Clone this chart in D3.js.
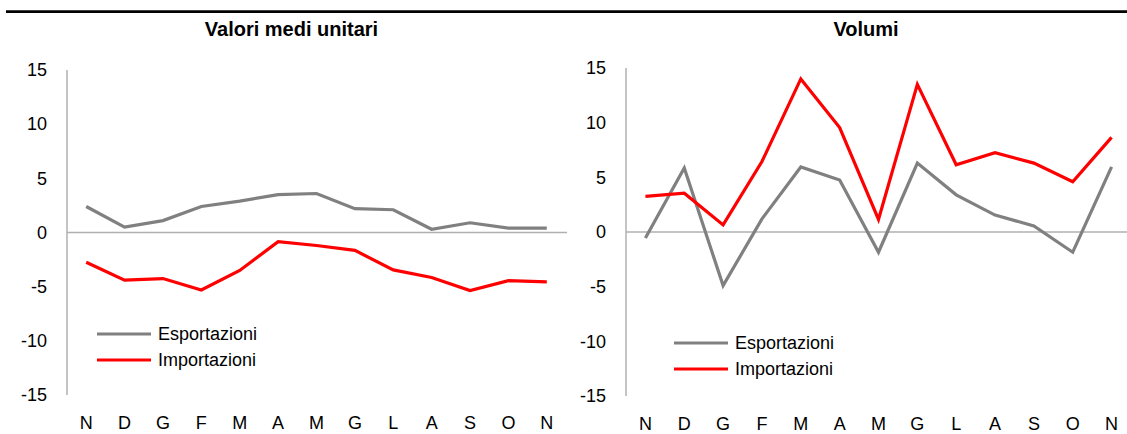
<!DOCTYPE html>
<html>
<head>
<meta charset="utf-8">
<script src="https://cdn.jsdelivr.net/npm/d3@7"></script>
<style>
  html, body { margin: 0; padding: 0; background: #fff; }
  svg { display: block; font-family: "Liberation Sans", Arial, sans-serif; }
</style>
</head>
<body>
<svg id="chart" width="1127" height="434"></svg>
<script>
const months = ["N","D","G","F","M","A","M","G","L","A","S","O","N"];
const yTicks = [15, 10, 5, 0, -5, -10, -15];
const seriesNames = ["Esportazioni", "Importazioni"];
const seriesColors = ["#808080", "#FF0000"];

const valoriExp = [2.4, 0.5, 1.1, 2.4, 2.9, 3.5, 3.6, 2.2, 2.1, 0.3, 0.9, 0.4, 0.4];
const valoriImp = [-2.75, -4.4, -4.25, -5.3, -3.5, -0.85, -1.2, -1.65, -3.45, -4.15, -5.35, -4.45, -4.55];
const volumiExp = [-0.55, 5.85, -4.9, 1.2, 5.95, 4.75, -1.85, 6.3, 3.4, 1.55, 0.55, -1.85, 5.95];
const volumiImp = [3.25, 3.55, 0.65, 6.45, 14.0, 9.55, 1.15, 13.5, 6.15, 7.25, 6.3, 4.6, 8.65];

const svg = d3.select("#chart");

// top rule
svg.append("line").attr("x1", 6).attr("x2", 1127).attr("y1", 11.7).attr("y2", 11.7)
  .attr("stroke", "#000").attr("stroke-width", 2.7);

const panels = [
  { title: "Valori medi unitari", titleX: 291.5, x0: 67, x1: 566, lineEnd: 567, yTop: 70, yBot: 395,
    series: [valoriExp, valoriImp], legX: 97, legY: 334 },
  { title: "Volumi", titleX: 866, x0: 626, x1: 1131, lineEnd: 1127, yTop: 68, yBot: 396,
    series: [volumiExp, volumiImp], legX: 674, legY: 343 }
];

panels.forEach(p => {
  const g = svg.append("g");
  const x = d3.scaleBand().domain(d3.range(months.length)).range([p.x0, p.x1]);
  const y = d3.scaleLinear().domain([-15, 15]).range([p.yBot, p.yTop]);

  g.append("text").attr("x", p.titleX).attr("y", 36).attr("text-anchor", "middle")
    .attr("font-size", 20).attr("font-weight", "bold").attr("fill", "#000").text(p.title);

  // y axis
  const yAxis = d3.axisLeft(y).tickValues(yTicks).tickSize(0).tickPadding(20).tickFormat(d => String(d));
  const ya = g.append("g").attr("transform", `translate(${p.x0},0)`).call(yAxis);
  ya.select(".domain").remove();
  ya.selectAll("text").attr("font-size", 18).attr("fill", "#000")
    .attr("font-family", "'Liberation Sans', Arial, sans-serif");
  g.append("line").attr("x1", p.x0).attr("x2", p.x0).attr("y1", y(15)).attr("y2", y(-15))
    .attr("stroke", "#B0B0B0").attr("stroke-width", 1.5);

  // zero line
  g.append("line").attr("x1", p.x0).attr("x2", p.lineEnd).attr("y1", y(0)).attr("y2", y(0))
    .attr("stroke", "#B0B0B0").attr("stroke-width", 1.5);

  // x labels
  const xAxis = d3.axisBottom(x).tickSize(0).tickPadding(0).tickFormat(i => months[i]);
  const xa = g.append("g").attr("transform", `translate(0,${p.yBot})`).call(xAxis);
  xa.select(".domain").remove();
  xa.selectAll("text").attr("font-size", 18).attr("fill", "#000").attr("dy", null).attr("y", 33.5)
    .attr("font-family", "'Liberation Sans', Arial, sans-serif");

  // lines
  const line = d3.line().x((d, i) => x(i) + x.bandwidth() / 2).y(d => y(d));
  p.series.forEach((s, k) => {
    g.append("path").datum(s).attr("d", line).attr("fill", "none")
      .attr("stroke", seriesColors[k]).attr("stroke-width", 3.2)
      .attr("stroke-linejoin", "miter").attr("stroke-linecap", "butt");
  });

  // legend
  seriesNames.forEach((n, k) => {
    const ly = p.legY + k * 26;
    g.append("line").attr("x1", p.legX).attr("x2", p.legX + 54).attr("y1", ly).attr("y2", ly)
      .attr("stroke", seriesColors[k]).attr("stroke-width", 3.2);
    g.append("text").attr("x", p.legX + 61).attr("y", ly).attr("dy", "0.35em")
      .attr("font-size", 18).attr("fill", "#000").text(n);
  });
});
</script>
</body>
</html>
